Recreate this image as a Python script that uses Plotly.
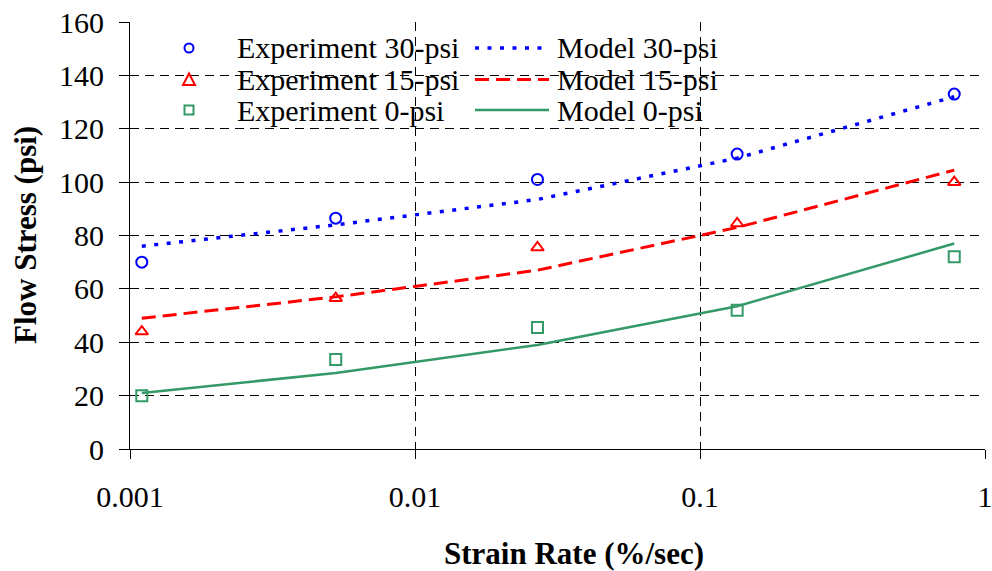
import plotly.graph_objects as go

# Data
strain_rate = [0.0011, 0.00527, 0.0269, 0.135, 0.78]
exp_30 = [70, 86.5, 101, 110.5, 133]
exp_15 = [44, 56.5, 75.5, 84.5, 100]
exp_0 = [20, 33.5, 45.5, 52, 72]
model_30 = [76, 84, 93.5, 109, 132]
model_15 = [49, 57, 67, 83, 104.5]
model_0 = [21, 28.5, 39, 53.5, 77]

x_ticks = [0.001, 0.01, 0.1, 1]
x_tick_text = ["0.001", "0.01", "0.1", "1"]
y_ticks = [0, 20, 40, 60, 80, 100, 120, 140, 160]

exp_names = ["Experiment 30-psi", "Experiment 15-psi", "Experiment 0-psi"]
model_names = ["Model 30-psi", "Model 15-psi", "Model 0-psi"]

BLUE = "#0000FF"
RED = "#FF0000"
GREEN = "#339966"
FONT = "Liberation Serif, Times New Roman, serif"

DOT = "4px,8.5px"
DASH = "14px,7px"

fig = go.Figure()

marker_base = dict(size=11, line=dict(width=2))
fig.add_trace(go.Scatter(x=strain_rate, y=exp_30, mode="markers", name=exp_names[0],
                         marker=dict(symbol="circle-open", color=BLUE, **marker_base)))
fig.add_trace(go.Scatter(x=strain_rate, y=exp_15, mode="markers", name=exp_names[1],
                         marker=dict(symbol="triangle-up-open", color=RED, **marker_base)))
fig.add_trace(go.Scatter(x=strain_rate, y=exp_0, mode="markers", name=exp_names[2],
                         marker=dict(symbol="square-open", color=GREEN, **marker_base)))

fig.add_trace(go.Scatter(x=strain_rate, y=model_30, mode="lines", name=model_names[0],
                         line=dict(color=BLUE, width=3.5, dash=DOT)))
fig.add_trace(go.Scatter(x=strain_rate, y=model_15, mode="lines", name=model_names[1],
                         line=dict(color=RED, width=3, dash=DASH)))
fig.add_trace(go.Scatter(x=strain_rate, y=model_0, mode="lines", name=model_names[2],
                         line=dict(color=GREEN, width=2.5)))

L, R, T, B = 130, 7, 22, 122
W, H = 992, 571
pw, ph = W - L - R, H - T - B

def px_x(p):
    return (p - L) / pw

def px_y(p):
    return (H - B - p) / ph

grid = dict(showgrid=True, gridcolor="black", gridwidth=1, griddash="9px,6px")
tickfont = dict(family=FONT, size=30, color="black")

# ---- hand-built legend (two columns, Excel style) ----
row_y = [48, 79.5, 110]
sym_x = 189
shapes = [dict(type="rect", xref="paper", yref="paper", x0=px_x(131), x1=px_x(755),
               y0=px_y(127), y1=px_y(23), fillcolor="white", line=dict(width=0), layer="between")]
r = 4.5
shapes.append(dict(type="circle", xref="paper", yref="paper",
                   x0=px_x(sym_x - r), x1=px_x(sym_x + r), y0=px_y(row_y[0] + r), y1=px_y(row_y[0] - r),
                   line=dict(color=BLUE, width=2), fillcolor="rgba(0,0,0,0)", layer="above"))
ty = row_y[1]
tri = "M {:.5f},{:.5f} L {:.5f},{:.5f} L {:.5f},{:.5f} Z".format(
    px_x(sym_x - 6), px_y(ty + 5.5), px_x(sym_x + 6), px_y(ty + 5.5), px_x(sym_x), px_y(ty - 6))
shapes.append(dict(type="path", xref="paper", yref="paper", path=tri,
                   line=dict(color=RED, width=2), fillcolor="rgba(0,0,0,0)", layer="above"))
shapes.append(dict(type="rect", xref="paper", yref="paper",
                   x0=px_x(sym_x - r), x1=px_x(sym_x + r), y0=px_y(row_y[2] + r), y1=px_y(row_y[2] - r),
                   line=dict(color=GREEN, width=2), fillcolor="rgba(0,0,0,0)", layer="above"))
line_styles = [dict(color=BLUE, width=3.5, dash=DOT), dict(color=RED, width=3, dash=DASH),
               dict(color=GREEN, width=2.5)]
for yy, ls in zip(row_y, line_styles):
    shapes.append(dict(type="line", xref="paper", yref="paper", x0=px_x(475), x1=px_x(549),
                       y0=px_y(yy), y1=px_y(yy), line=ls, layer="above"))

annotations = []
for yy, name in zip(row_y, exp_names):
    annotations.append(dict(text=name, xref="paper", yref="paper", x=px_x(235), y=px_y(yy),
                            showarrow=False, xanchor="left", yanchor="middle",
                            font=dict(family=FONT, size=30, color="black")))
for yy, name in zip(row_y, model_names):
    annotations.append(dict(text=name, xref="paper", yref="paper", x=px_x(555), y=px_y(yy),
                            showarrow=False, xanchor="left", yanchor="middle",
                            font=dict(family=FONT, size=30, color="black")))

annotations += [
    dict(text="<b>Strain Rate (%/sec)</b>", xref="paper", yref="paper", x=px_x(574), y=px_y(553),
         showarrow=False, xanchor="center", yanchor="middle",
         font=dict(family=FONT, size=31, color="black")),
    dict(text="<b>Flow Stress (psi)</b>", xref="paper", yref="paper", x=px_x(25), y=px_y(235),
         showarrow=False, xanchor="center", yanchor="middle", textangle=-90,
         font=dict(family=FONT, size=31, color="black")),
]

fig.update_layout(
    width=W, height=H,
    margin=dict(l=L, r=R, t=T, b=B, pad=0, autoexpand=False),
    paper_bgcolor="white", plot_bgcolor="white",
    font=dict(family=FONT, size=30, color="black"),
    showlegend=False,
    xaxis=dict(type="log", range=[-3, 0], tickvals=x_ticks, ticktext=x_tick_text, tickfont=tickfont,
               ticks="outside", ticklen=9, tickcolor="black", showline=True, linecolor="black",
               linewidth=1, zeroline=False, ticklabeloverflow="allow", ticklabelstandoff=12,
               automargin=False, **grid),
    yaxis=dict(range=[0, 160], tickvals=y_ticks, tickfont=tickfont, ticks="outside", ticklen=10,
               tickcolor="black", showline=True, linecolor="black", linewidth=1, zeroline=False,
               ticklabelstandoff=9, automargin=False, **grid),
    shapes=shapes,
    annotations=annotations,
)

fig.write_html("out.html")
